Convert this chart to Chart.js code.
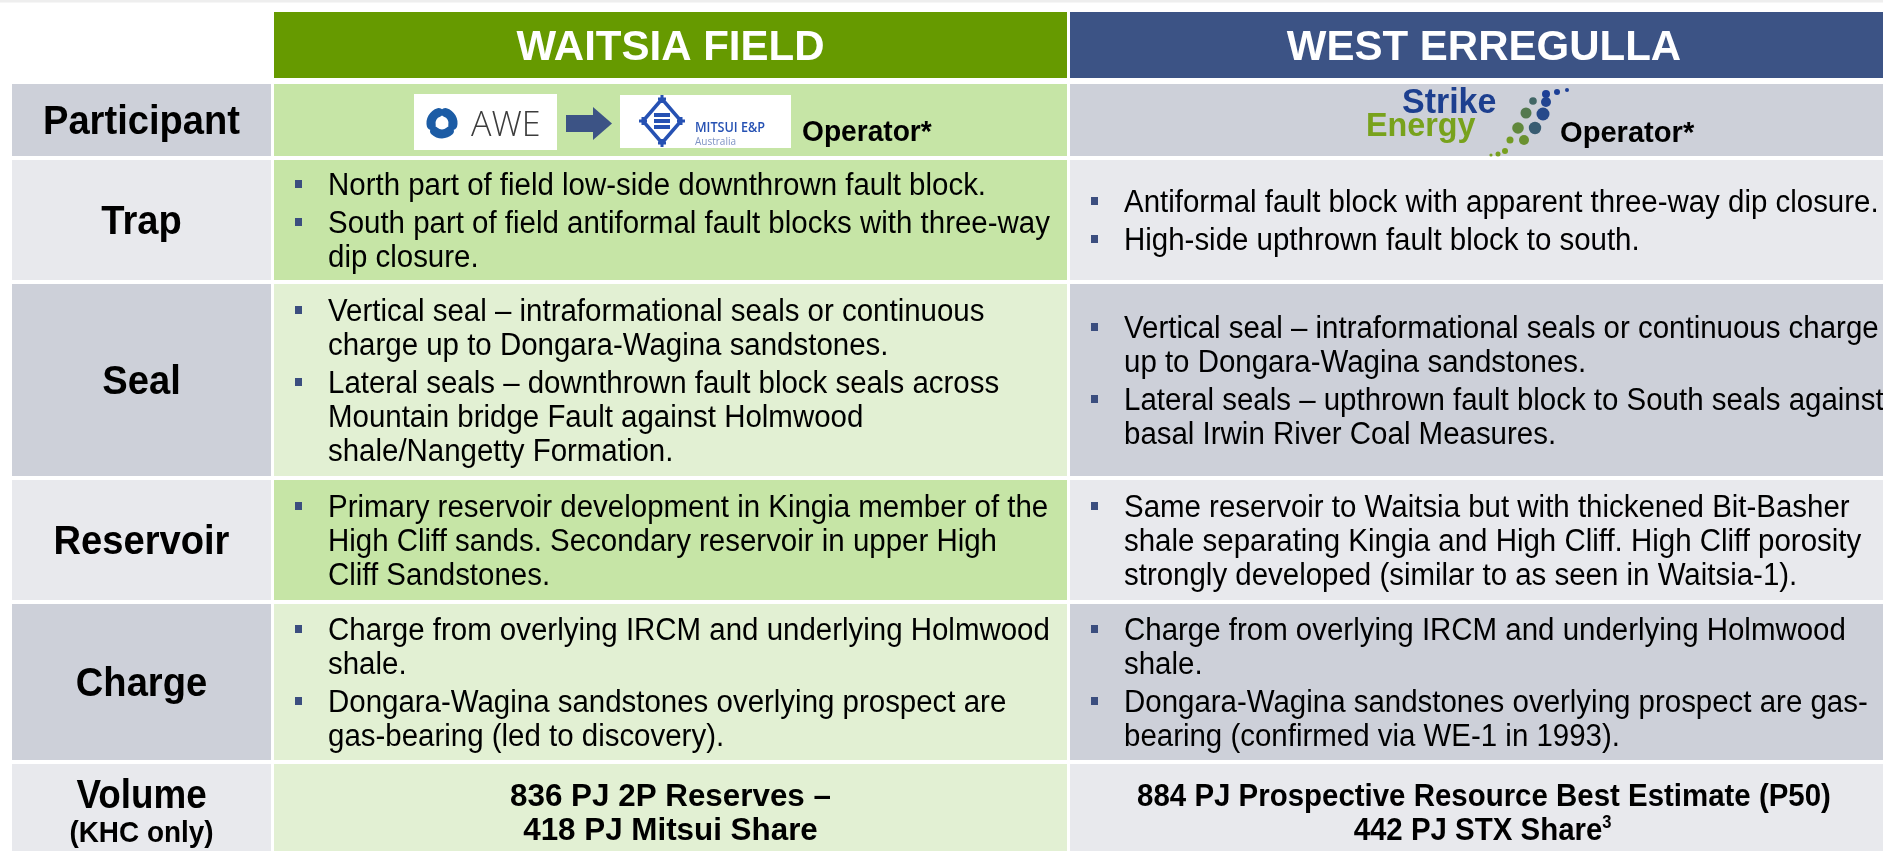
<!DOCTYPE html>
<html>
<head>
<meta charset="utf-8">
<script src="https://cdn.jsdelivr.net/npm/chart.js@4.4.1/dist/chart.umd.min.js"></script>
<style>
  html, body { margin: 0; padding: 0; background: #ffffff; overflow: hidden; }
  #table { display: block; }
</style>
</head>
<body>
<canvas id="table" width="1883" height="851"></canvas>
<script>
// ---- content ----
const columnTitles = ["WAITSIA FIELD", "WEST ERREGULLA"];
const rowLabels = ["Participant", "Trap", "Seal", "Reservoir", "Charge", "Volume"];
const volumeNote = "(KHC only)";
const operatorText = "Operator*";

const waitsiaTrap = [
  ["North part of field low-side downthrown fault block."],
  ["South part of field antiformal fault blocks with three-way", "dip closure."],
];
const waitsiaSeal = [
  ["Vertical seal – intraformational seals or continuous", "charge up to Dongara-Wagina sandstones."],
  ["Lateral seals – downthrown fault block seals across", "Mountain bridge Fault against Holmwood", "shale/Nangetty Formation."],
];
const waitsiaReservoir = [
  ["Primary reservoir development in Kingia member of the", "High Cliff sands. Secondary reservoir in upper High", "Cliff Sandstones."],
];
const waitsiaCharge = [
  ["Charge from overlying IRCM and underlying Holmwood", "shale."],
  ["Dongara-Wagina sandstones overlying prospect are", "gas-bearing (led to discovery)."],
];
const waitsiaVolume = ["836 PJ 2P Reserves –", "418 PJ Mitsui Share"];

const erregullaTrap = [
  ["Antiformal fault block with apparent three-way dip closure."],
  ["High-side upthrown fault block to south."],
];
const erregullaSeal = [
  ["Vertical seal – intraformational seals or continuous charge", "up to Dongara-Wagina sandstones."],
  ["Lateral seals – upthrown fault block to South seals against", "basal Irwin River Coal Measures."],
];
const erregullaReservoir = [
  ["Same reservoir to Waitsia but with thickened Bit-Basher", "shale separating Kingia and High Cliff. High Cliff porosity", "strongly developed (similar to as seen in Waitsia-1)."],
];
const erregullaCharge = [
  ["Charge from overlying IRCM and underlying Holmwood", "shale."],
  ["Dongara-Wagina sandstones overlying prospect are gas-", "bearing (confirmed via WE-1 in 1993)."],
];
const erregullaVolume = ["884 PJ Prospective Resource Best Estimate (P50)", "442 PJ STX Share"];
const erregullaVolumeSup = "3";

// ---- layout (in table units, which map 1:1 to the scales) ----
const W = 1883, H = 851;
const colEdges = [[12, 271], [274, 1067], [1070, 1898]];
const headerEdge = [12, 78];
const rowEdges = [[84, 156], [160, 280], [284, 476], [480, 600], [604, 760], [764, 860]];
const lineH = 34, paraGap = 4;

const FONT = '"Liberation Sans", Arial, sans-serif';
const C = {
  greenHead: "#669a00", blueHead: "#3c5385",
  greyDark: "#cdd0d9", greyLight: "#e8e9ed",
  greenDark: "#c6e5a6", greenLight: "#e2f0d3",
  bullet: "#3b4e7f", text: "#000000",
};
const labelFill = [C.greyDark, C.greyLight, C.greyDark, C.greyLight, C.greyDark, C.greyLight];
const waitsiaFill = [C.greenDark, C.greenDark, C.greenLight, C.greenDark, C.greenLight, C.greenLight];
const erregullaFill = [C.greyDark, C.greyLight, C.greyDark, C.greyLight, C.greyDark, C.greyLight];

function drawText(ctx, str, x, y, font, color, align, sx) {
  ctx.save();
  ctx.font = font;
  ctx.fillStyle = color;
  ctx.textAlign = align || "left";
  ctx.textBaseline = "alphabetic";
  ctx.translate(x, y);
  ctx.scale(sx || 1, 1);
  ctx.fillText(str, 0, 0);
  ctx.restore();
}

function drawBullets(ctx, paras, left, top, bottom) {
  const fs = 31;
  const nLines = paras.reduce((n, p) => n + p.length, 0);
  const total = nLines * lineH + (paras.length - 1) * paraGap;
  let cy = (top + bottom) / 2 - total / 2 + lineH / 2;
  paras.forEach((p) => {
    p.forEach((line, i) => {
      if (i === 0) {
        ctx.fillStyle = C.bullet;
        ctx.fillRect(left + 21, cy - 4, 7, 8);
      }
      drawText(ctx, line, left + 54, cy + 11, `${fs}px ${FONT}`, C.text, "left", 0.95);
      cy += lineH;
    });
    cy += paraGap;
  });
}

function drawAwe(ctx, x, y) {
  ctx.fillStyle = "#ffffff";
  ctx.fillRect(x, y, 143, 56);
  ctx.save();
  ctx.strokeStyle = "#1c5ca5";
  ctx.lineWidth = 9;
  ctx.lineCap = "round";
  const cx = x + 28, cy = y + 29;
  for (let k = 0; k < 3; k++) {
    const a = -Math.PI / 2 + k * 2 * Math.PI / 3;
    ctx.beginPath();
    ctx.arc(cx, cy, 11, a + 0.3, a + 1.8);
    ctx.stroke();
  }
  ctx.restore();
  drawText(ctx, "AWE", x + 57, y + 42, `300 34px "Open Sans", ${FONT}`, "#3c3c3c", "left", 1);
}

function drawArrow(ctx, x, y) {
  ctx.fillStyle = "#3c5385";
  ctx.fillRect(x, y + 8, 28, 17);
  ctx.beginPath();
  ctx.moveTo(x + 27, y);
  ctx.lineTo(x + 46, y + 16.5);
  ctx.lineTo(x + 27, y + 33);
  ctx.closePath();
  ctx.fill();
}

function drawMitsui(ctx, x, y) {
  ctx.fillStyle = "#ffffff";
  ctx.fillRect(x, y, 171, 53);
  const cx = x + 42, cy = y + 26;
  ctx.save();
  ctx.strokeStyle = "#2651b3";
  ctx.fillStyle = "#2651b3";
  ctx.lineWidth = 3.5;
  ctx.beginPath();
  ctx.moveTo(cx, cy - 22);
  ctx.lineTo(cx + 19, cy);
  ctx.lineTo(cx, cy + 22);
  ctx.lineTo(cx - 19, cy);
  ctx.closePath();
  ctx.stroke();
  [[0, -22], [19, 0], [0, 22], [-19, 0]].forEach(([dx, dy]) => {
    ctx.fillRect(cx + dx - 4, cy + dy - 1.5, 8, 3);
    ctx.fillRect(cx + dx - 1.5, cy + dy - 4, 3, 8);
  });
  for (let k = -1; k <= 1; k++) ctx.fillRect(cx - 8, cy + k * 6 - 2, 16, 4);
  ctx.restore();
  drawText(ctx, "MITSUI E&P", x + 75, y + 37, `600 14px "Open Sans", ${FONT}`, "#2651b3", "left", 0.9);
  drawText(ctx, "Australia", x + 75, y + 50, `10px "Open Sans", ${FONT}`, "#7f93c4", "left", 1);
}

function drawStrike(ctx, x, y) {
  drawText(ctx, "Strike", x + 38, y + 28, `bold 35px ${FONT}`, "#1d3f8f", "left", 0.97);
  drawText(ctx, "Energy", x + 2, y + 51, `bold 34px ${FONT}`, "#78a21c", "left", 0.95);
  const dots = [
    [203, 5, 2, 1], [193, 7, 3, 1], [182, 9, 4, 1],
    [169, 16, 3.8, 0.6], [182, 17, 5, 0.95],
    [162, 28, 5.5, 0.4], [179, 29, 6.5, 0.9],
    [154, 43, 5.8, 0.25], [171, 43, 6.2, 0.7],
    [160, 55, 5, 0.15], [146, 55, 3.5, 0.05],
    [141, 66, 3, 0], [134, 69, 2.5, 0], [127, 70, 1.6, 0],
  ];
  dots.forEach(([dx, dy, r, t]) => {
    const g = [120 + (29 - 120) * t, 160 + (63 - 160) * t, 30 + (150 - 30) * t].map(Math.round);
    ctx.fillStyle = `rgb(${g[0]},${g[1]},${g[2]})`;
    ctx.beginPath();
    ctx.arc(x + dx, y + dy, r, 0, Math.PI * 2);
    ctx.fill();
  });
}

const tablePlugin = {
  id: "tablePlugin",
  beforeDatasetsDraw(chart) {
    const ctx = chart.ctx;
    const sx = chart.scales.x, sy = chart.scales.y;
    const px = (v) => sx.getPixelForValue(v);
    const py = (v) => sy.getPixelForValue(v);
    const rect = (x0, x1, y0, y1, fill) => {
      ctx.fillStyle = fill;
      ctx.fillRect(px(x0), py(y0), px(x1) - px(x0), py(y1) - py(y0));
    };

    ctx.save();
    rect(0, W, 0, 2.5, "#eeeeee");

    // headers
    const heads = [C.greenHead, C.blueHead];
    columnTitles.forEach((t, i) => {
      const [x0, x1] = colEdges[i + 1];
      rect(x0, x1, headerEdge[0], headerEdge[1], heads[i]);
      drawText(ctx, t, px((x0 + x1) / 2), py((headerEdge[0] + headerEdge[1]) / 2) + 15,
        `bold 42px ${FONT}`, "#ffffff", "center", 1);
    });

    // cells
    rowLabels.forEach((lab, r) => {
      const [y0, y1] = rowEdges[r];
      rect(colEdges[0][0], colEdges[0][1], y0, y1, labelFill[r]);
      rect(colEdges[1][0], colEdges[1][1], y0, y1, waitsiaFill[r]);
      rect(colEdges[2][0], colEdges[2][1], y0, y1, erregullaFill[r]);
      const lx = px((colEdges[0][0] + colEdges[0][1]) / 2);
      if (lab === "Volume") {
        drawText(ctx, lab, lx, py(808), `bold 40px ${FONT}`, C.text, "center", 0.92);
        drawText(ctx, volumeNote, lx, py(842), `bold 30px ${FONT}`, C.text, "center", 0.93);
      } else {
        drawText(ctx, lab, lx, py((y0 + y1) / 2) + 14, `bold 41px ${FONT}`, C.text, "center", 0.93);
      }
    });

    const wParas = [null, waitsiaTrap, waitsiaSeal, waitsiaReservoir, waitsiaCharge];
    const eParas = [null, erregullaTrap, erregullaSeal, erregullaReservoir, erregullaCharge];
    for (let r = 1; r <= 4; r++) {
      const [y0, y1] = rowEdges[r];
      drawBullets(ctx, wParas[r], px(colEdges[1][0]), py(y0), py(y1));
      drawBullets(ctx, eParas[r], px(colEdges[2][0]), py(y0), py(y1));
    }

    // participant row
    const pTop = py(rowEdges[0][0]);
    drawAwe(ctx, px(414), pTop + 10);
    drawArrow(ctx, px(566), pTop + 23);
    drawMitsui(ctx, px(620), pTop + 11);
    drawText(ctx, operatorText, px(802), pTop + 57, `bold 29px ${FONT}`, C.text, "left", 0.97);
    drawStrike(ctx, px(1364), pTop + 1);
    drawText(ctx, operatorText, px(1560), pTop + 58, `bold 30px ${FONT}`, C.text, "left", 0.97);

    // volume row
    const wx = px((colEdges[1][0] + colEdges[1][1]) / 2);
    drawText(ctx, waitsiaVolume[0], wx, py(806), `bold 32px ${FONT}`, C.text, "center", 0.98);
    drawText(ctx, waitsiaVolume[1], wx, py(840), `bold 32px ${FONT}`, C.text, "center", 0.98);
    const ex = px((colEdges[2][0] + colEdges[2][1]) / 2);
    const vs = 0.92;
    drawText(ctx, erregullaVolume[0], ex, py(806), `bold 32px ${FONT}`, C.text, "center", vs);
    ctx.save();
    ctx.font = `bold 32px ${FONT}`;
    const w2 = ctx.measureText(erregullaVolume[1]).width * vs;
    ctx.restore();
    drawText(ctx, erregullaVolume[1], ex - 6, py(840), `bold 32px ${FONT}`, C.text, "center", vs);
    drawText(ctx, erregullaVolumeSup, ex - 6 + w2 / 2, py(828), `bold 18px ${FONT}`, C.text, "left", vs);
    ctx.restore();
  },
};

new Chart(document.getElementById("table"), {
  type: "scatter",
  data: { datasets: [{ data: [], pointRadius: 0 }] },
  options: {
    responsive: false,
    animation: false,
    layout: { padding: 0 },
    plugins: { legend: { display: false }, tooltip: { enabled: false } },
    scales: {
      x: { type: "linear", min: 0, max: W, display: false },
      y: { type: "linear", min: 0, max: H, reverse: true, display: false },
    },
  },
  plugins: [tablePlugin],
});
</script>
</body>
</html>
